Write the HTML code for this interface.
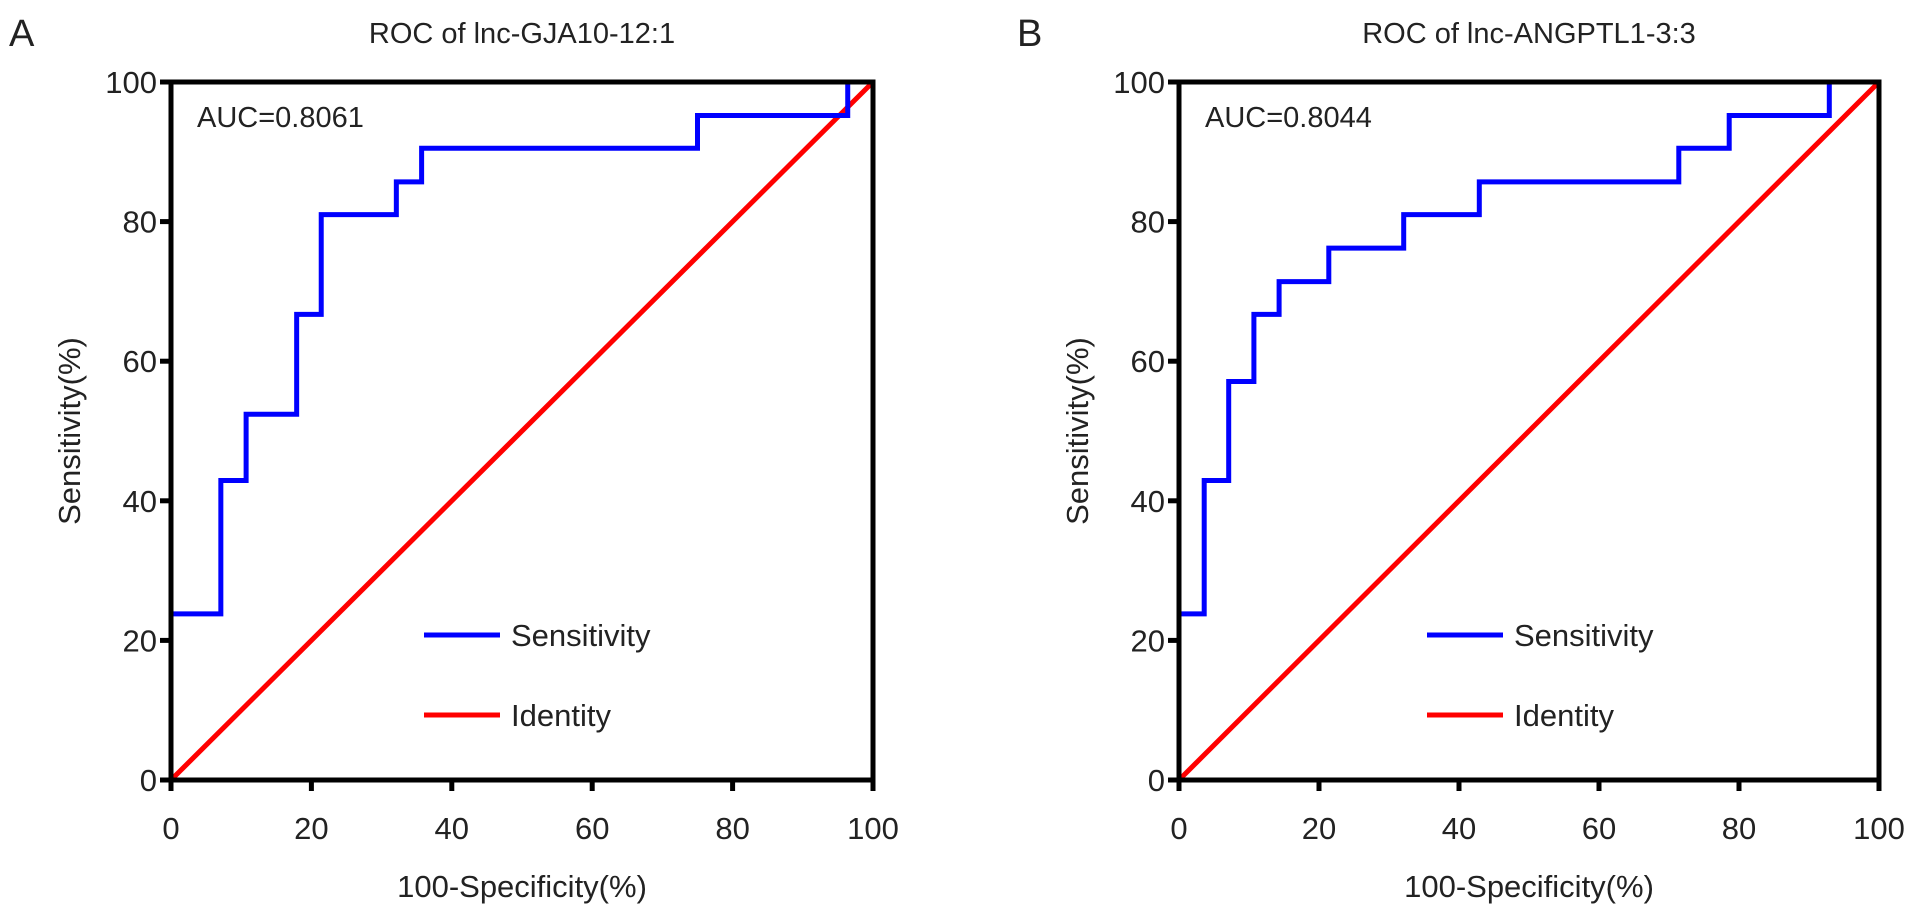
<!DOCTYPE html>
<html><head><meta charset="utf-8"><style>
body{margin:0;background:#fff;width:1913px;height:915px;overflow:hidden}
svg text{font-family:"Liberation Sans",Arial,sans-serif;fill:#222}
</style></head><body>
<svg id="c" width="1913" height="915"></svg>
<script>
const ticks=[0,20,40,60,80,100];
const titlesArr=["ROC of lnc-GJA10-12:1","ROC of lnc-ANGPTL1-3:3"];
const lettersArr=["A","B"];
const aucArr=["AUC=0.8061","AUC=0.8044"];
const fprA=[0,0,7.1,10.7,17.9,21.4,32.1,35.7,75,96.4,100];
const tprA=[0,23.8,42.9,52.4,66.7,81,85.7,90.5,95.2,100,100];
const fprB=[0,0,3.6,7.1,10.7,14.3,21.4,32.1,42.9,71.4,78.6,92.9,100];
const tprB=[0,23.8,42.9,57.1,66.7,71.4,76.2,81,85.7,90.5,95.2,100,100];
const panels=[{x0:171,x1:873,fpr:fprA,tpr:tprA,lx:424},{x0:1179,x1:1879,fpr:fprB,tpr:tprB,lx:1427}];
const y0=780,y1=82;
const svg=document.getElementById('c');const NS='http://www.w3.org/2000/svg';
function mk(t,a,p){const e=document.createElementNS(NS,t);for(const k in a)e.setAttribute(k,a[k]);(p||svg).appendChild(e);return e;}
panels.forEach((P,i)=>{
 const g=mk('g',{});
 
 
 const X=v=>P.x0+(P.x1-P.x0)*v/100, Y=v=>y0+(y1-y0)*v/100;
 let t=mk('text',{x:P.x0-162,y:46,'font-size':38},g);t.textContent=lettersArr[i];
 
 
 t=mk('text',{x:(P.x0+P.x1)/2,y:43,'font-size':29,'text-anchor':'middle'},g);t.textContent=titlesArr[i];
 
 
 let l=mk('line',{x1:X(0),y1:Y(0),x2:X(100),y2:Y(100),stroke:'#f00','stroke-width':5},g);
 
 
 let d='M'+X(P.fpr[0])+','+Y(P.tpr[0]);
 for(let k=1;k<P.fpr.length;k++){d+=' L'+X(P.fpr[k])+','+Y(P.tpr[k-1])+' L'+X(P.fpr[k])+','+Y(P.tpr[k]);}
 const p=mk('path',{d:d,fill:'none',stroke:'#0000ff','stroke-width':5,'stroke-linejoin':'miter'},g);
 
 
 const r=mk('rect',{x:P.x0,y:y1,width:P.x1-P.x0,height:y0-y1,fill:'none',stroke:'#000','stroke-width':5},g);
 
 
 ticks.forEach(v=>{
  mk('line',{x1:P.x0-11,x2:P.x0,y1:Y(v),y2:Y(v),stroke:'#000','stroke-width':5},g);
  let a=mk('text',{x:P.x0-14,y:Y(v)+11,'font-size':31,'text-anchor':'end'},g);a.textContent=v;
  
  
  mk('line',{x1:X(v),x2:X(v),y1:y0,y2:y0+11,stroke:'#000','stroke-width':5},g);
  a=mk('text',{x:X(v),y:839,'font-size':31,'text-anchor':'middle'},g);a.textContent=v;
  
  
 });
 t=mk('text',{x:(P.x0+P.x1)/2,y:897,'font-size':31,'text-anchor':'middle'},g);t.textContent='100-Specificity(%)';
 
 
 const cy=(y0+y1)/2;
 t=mk('text',{x:P.x0-91,y:cy,'font-size':31,'text-anchor':'middle',transform:`rotate(-90 ${P.x0-91} ${cy})`},g);t.textContent='Sensitivity(%)';
 
 
 t=mk('text',{x:P.x0+26,y:127,'font-size':29},g);t.textContent=aucArr[i];
 
 
 mk('line',{x1:P.lx,x2:P.lx+76,y1:635,y2:635,stroke:'#0000ff','stroke-width':5},g);
 t=mk('text',{x:P.lx+87,y:646,'font-size':31},g);t.textContent='Sensitivity';
 
 
 mk('line',{x1:P.lx,x2:P.lx+76,y1:715,y2:715,stroke:'#f00','stroke-width':5},g);
 t=mk('text',{x:P.lx+87,y:726,'font-size':31},g);t.textContent='Identity';
 
 
});
</script>
</body></html>
